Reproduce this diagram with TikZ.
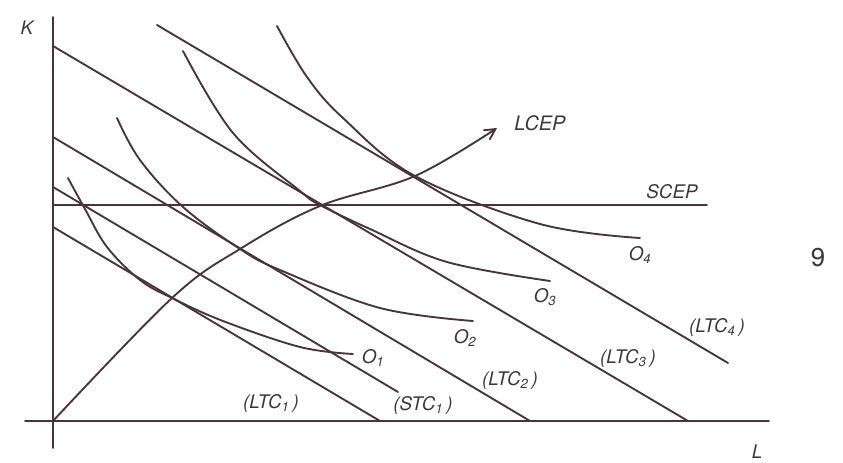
\documentclass[tikz,border=0pt]{standalone}
\usepackage{fontspec}
\setmainfont{TeX Gyre Heros}
\usetikzlibrary{arrows.meta, calc}

\definecolor{inkcol}{RGB}{72,52,58}
\definecolor{textcol}{RGB}{58,54,58}

\begin{document}
\begin{tikzpicture}[
    x=6mm, y=6mm,
    > = {Straight Barb[length=3.2mm, width=3.4mm]},
    line width=1.6pt,
    ink/.style={draw=inkcol, line cap=round},
    lbl/.style={text=textcol, inner sep=1pt, font=\fontsize{16}{19}\selectfont\itshape},
    big/.style={text=textcol, inner sep=1pt, font=\fontsize{22}{26}\selectfont}
]
\useasboundingbox (-2.65,-2.1) rectangle (39.5,21.05);

% --- Axes ---
\coordinate (ktop) at (0,20.2);
\coordinate (kbot) at (0,-1.35);
\coordinate (lleft) at (-1.4,0);
\coordinate (lright) at (35.8,0);
\draw[ink] (kbot) -- (ktop);
\draw[ink] (lleft) -- (lright);
\node[lbl] (klab) at (-1.3,19.65) {K};
\node[lbl] (llab) at (35.2,-1.55) {L};

% --- Cost lines ---
\coordinate (ltc1a) at (0,9.7);     \coordinate (ltc1b) at (16.35,0);
\coordinate (stc1a) at (0,11.7);    \coordinate (stc1b) at (17.25,1.45);
\coordinate (ltc2a) at (0,14.2);    \coordinate (ltc2b) at (23.85,0);
\coordinate (ltc3a) at (0,18.75);   \coordinate (ltc3b) at (31.75,0);
\coordinate (ltc4a) at (5.2,19.8);  \coordinate (ltc4b) at (33.75,2.9);
\draw[ink] (ltc1a) -- (ltc1b);
\draw[ink] (stc1a) -- (stc1b);
\draw[ink] (ltc2a) -- (ltc2b);
\draw[ink] (ltc3a) -- (ltc3b);
\draw[ink] (ltc4a) -- (ltc4b);

\node[lbl] (ltc1lab) at (10.9,0.9) {(LTC\textsubscript{1}\,)};
\node[lbl] (stc1lab) at (18.5,0.8) {(STC\textsubscript{1}\,)};
\node[lbl] (ltc2lab) at (22.85,2.05) {(LTC\textsubscript{2}\,)};
\node[lbl] (ltc3lab) at (28.75,3.15) {(LTC\textsubscript{3}\,)};
\node[lbl] (ltc4lab) at (33.2,4.7) {(LTC\textsubscript{4}\,)};

% --- Isoquants ---
\draw[ink] plot[smooth, tension=0.6] coordinates {
    (0.75,12.15) (1.6,10.6) (2.7,8.7) (4.35,7.05) (5.95,6.15) (8.5,5.0) (12.35,3.7) (15,3.35)};
\draw[ink] plot[smooth, tension=0.6] coordinates {
    (3.2,15.15) (4.35,13.05) (6.5,10.7) (9.35,8.6) (11.35,7.55) (16.35,5.65) (21,5.0)};
\draw[ink] plot[smooth, tension=0.6] coordinates {
    (6.5,18.5) (9,14.4) (12.35,11.5) (13.35,10.8) (15.85,9.6) (19.7,7.95) (24.85,7.0)};
\draw[ink] plot[smooth, tension=0.6] coordinates {
    (11.2,19.75) (12.7,17.2) (14.5,15.15) (18.1,12.25) (24.35,9.85) (29.35,9.15)};

\node[lbl] (o1lab) at (16.0,3.15) {O\textsubscript{1}};
\node[lbl] (o2lab) at (20.6,4.15) {O\textsubscript{2}};
\node[lbl] (o3lab) at (24.6,6.2) {O\textsubscript{3}};
\node[lbl] (o4lab) at (29.35,8.3) {O\textsubscript{4}};

% --- Expansion paths ---
\coordinate (scepa) at (0,10.8);
\coordinate (scepb) at (32.7,10.8);
\draw[ink] (scepa) -- (scepb);
\node[lbl] (sceplab) at (30.95,11.45) {SCEP};

\draw[ink, ->] plot[smooth, tension=0.6] coordinates {
    (0,0) (5.95,6.15) (9.35,8.6) (13.35,10.75) (18.1,12.25) (22.2,14.65)};
\node[lbl, font=\fontsize{17}{20}\selectfont\itshape] (lceplab) at (24.35,14.9) {LCEP};

\node[big] (pagenum) at (38.25,8.15) {9};

\end{tikzpicture}
\end{document}
